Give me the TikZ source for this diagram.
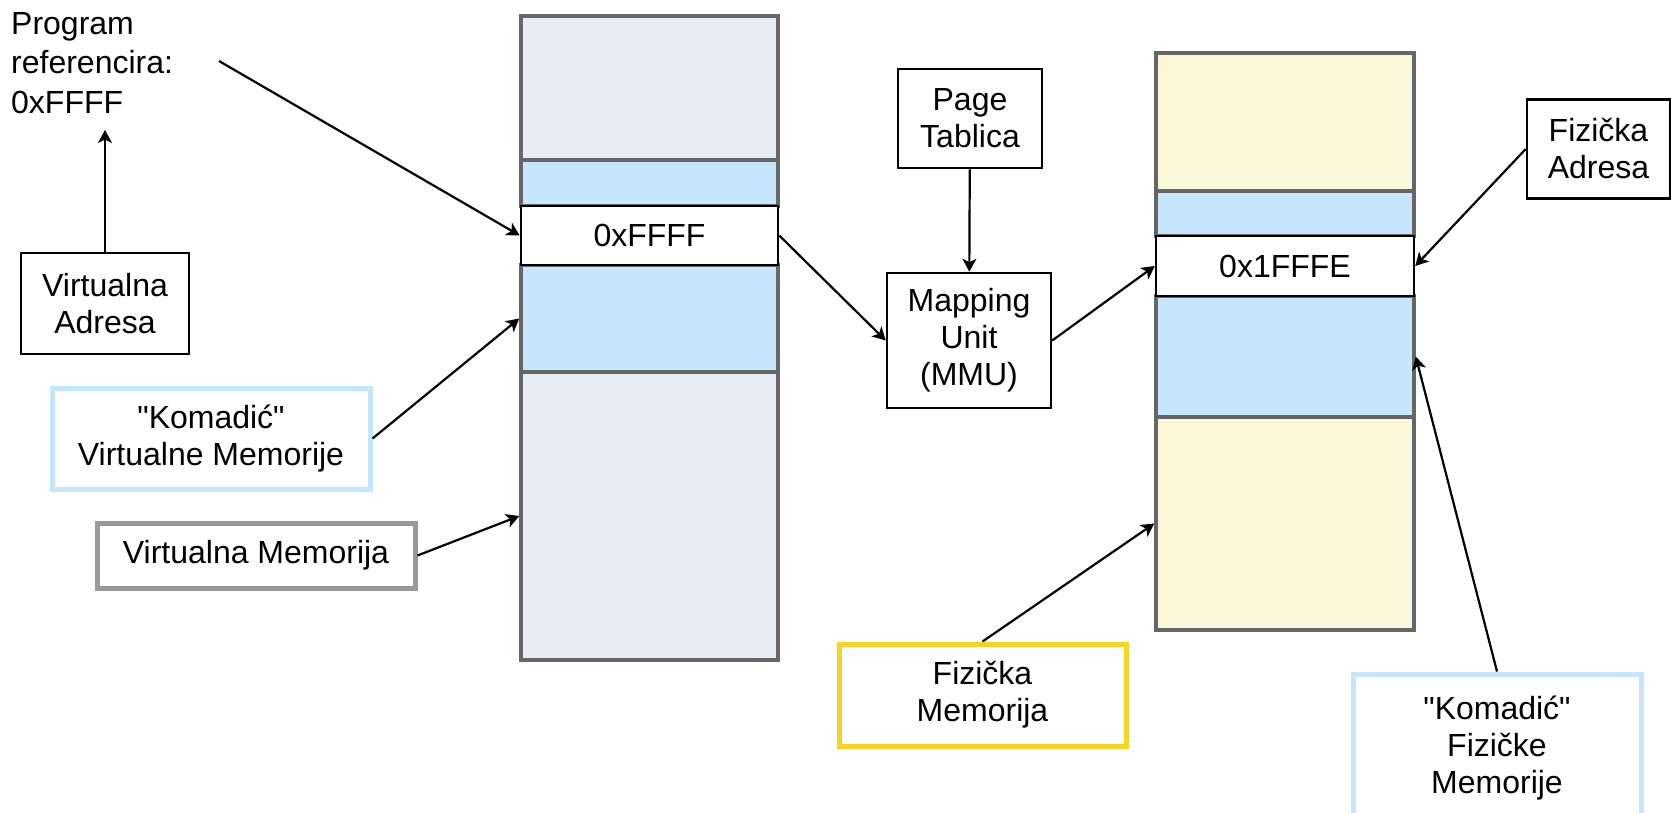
\documentclass[tikz,border=0pt]{standalone}
\usepackage{fontspec}
\setmainfont{Liberation Sans}[Ligatures=TeXOff]
\usetikzlibrary{arrows.meta}

\definecolor{virtfill}{RGB}{232,236,245}
\definecolor{physfill}{RGB}{252,247,216}
\definecolor{bandblue}{RGB}{197,230,252}
\definecolor{colgray}{RGB}{102,102,102}
\definecolor{graybord}{RGB}{153,153,153}
\definecolor{yellbord}{RGB}{244,212,38}

\begin{document}
\begin{tikzpicture}[x=1pt,y=-1pt,
  font=\fontsize{32}{37}\selectfont,
  box/.style={draw,line width=2.5pt,fill=white,inner sep=0pt,align=center},
  tag/.style={line width=5pt,fill=white,inner sep=0pt,align=center},
  col/.style={draw=colgray,line width=3.5pt,inner sep=0pt},
  arr/.style={-{Stealth[length=13pt,width=14pt,inset=3.5pt]},line width=2.2pt}]
  \useasboundingbox (0,0) rectangle (1671,812);
  \clip (0,0) rectangle (1671,812);

  \node[anchor=west,align=left,inner sep=0pt,font=\fontsize{32}{39.5}\selectfont] (prog) at (11,63) {Program\\referencira:\\0xFFFF};
  \coordinate (progin) at (105,130);
  \coordinate (progout) at (219,61);

  \node[box,minimum width=168,minimum height=101] (va) at (105,303.5) {Virtualna\\Adresa};
  \node[tag,draw=bandblue,minimum width=318,minimum height=101] (kvm) at (211,438.5) {"Komadić"\\Virtualne Memorije};
  \node[tag,draw=graybord,minimum width=318,minimum height=65] (vm) at (256,555.5) {Virtualna Memorija};

  % virtualna memorija
  \node[col,fill=virtfill,minimum width=257,minimum height=144] (vtop) at (649.5,88) {};
  \node[col,fill=bandblue,minimum width=257,minimum height=46] (vband1) at (649.5,183) {};
  \node[col,fill=bandblue,minimum width=257,minimum height=107] (vband2) at (649.5,318.5) {};
  \node[col,fill=virtfill,minimum width=257,minimum height=288] (vlow) at (649.5,516) {};
  \node[box,minimum width=257,minimum height=59] (vaddr) at (649.5,235.5) {0xFFFF};

  \node[box,minimum width=144,minimum height=99] (pt) at (970,118.5) {Page\\Tablica};
  \node[box,minimum width=164,minimum height=135] (mmu) at (969,340.5) {Mapping\\Unit\\(MMU)};

  % fizicka memorija
  \node[col,fill=physfill,minimum width=258,minimum height=138] (ptop) at (1285,122) {};
  \node[col,fill=bandblue,minimum width=258,minimum height=45] (pband1) at (1285,213.5) {};
  \node[col,fill=bandblue,minimum width=258,minimum height=121] (pband2) at (1285,356.5) {};
  \node[col,fill=physfill,minimum width=258,minimum height=213] (plow) at (1285,523.5) {};
  \node[box,minimum width=258,minimum height=60] (paddr) at (1285,266) {0x1FFFE};

  \node[box,minimum width=143,minimum height=99] (fa) at (1598.5,149) {Fizička\\Adresa};
  \node[tag,draw=yellbord,minimum width=287,minimum height=102] (fm) at (982.5,695) {Fizička\\Memorija};
  \node[tag,draw=bandblue,minimum width=288,minimum height=148] (kfm) at (1497,748) {"Komadić"\\Fizičke\\Memorije};

  \draw[arr] (va) -- (progin);
  \draw[arr] (progout) -- (vaddr.west);
  \draw[arr] (kvm.east) -- (vband2.west);
  \draw[arr] (vm.east) -- (vlow.west);
  \draw[arr] (vaddr.east) -- (mmu.west);
  \draw[arr] (pt) -- (mmu);
  \draw[arr] (mmu.east) -- (paddr.west);
  \draw[arr] (fa.west) -- (paddr.east);
  \draw[arr] (fm.north) -- (plow.west);
  \draw[arr] (kfm.north) -- (pband2.east);
\end{tikzpicture}
\end{document}
